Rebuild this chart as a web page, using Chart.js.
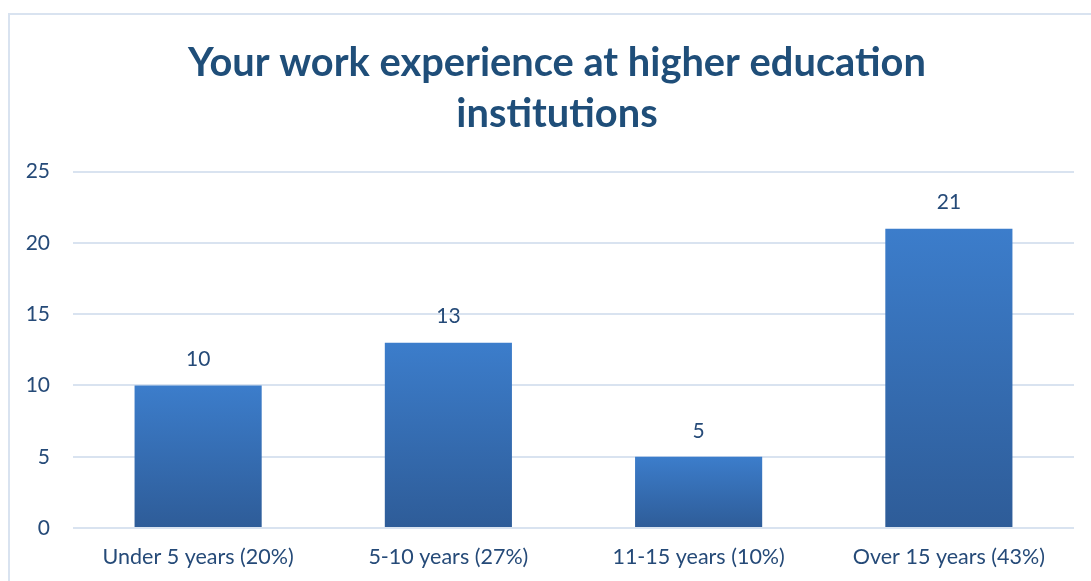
<!DOCTYPE html>
<html>
<head>
<meta charset="utf-8">
<script src="https://cdn.jsdelivr.net/npm/chart.js@4"></script>
<style>
  body { margin: 0; background: #fff; }
  #wrap { width: 1091px; height: 581px; }
</style>
</head>
<body>
<div id="wrap"><canvas id="chart" width="1091" height="581"></canvas></div>
<script>
const titleLines = ['Your work experience at higher education', 'institutions'];
const categories = ['Under 5 years (20%)', '5-10 years (27%)', '11-15 years (10%)', 'Over 15 years (43%)'];
const counts = [10, 13, 5, 21];
const yTicks = [0, 5, 10, 15, 20, 25];

const textBlue = '#1F4E79';
const labelBlue = '#254A78';
const gridColor = '#D9E3F0';

// per-bar gradient, light at the top, darker at the base
function barFill(ctx) {
    const chart = ctx.chart;
    const y = chart.scales.y;
    if (!chart.chartArea || !y) return '#3A78C6';
    const top = y.getPixelForValue(ctx.raw);
    const base = y.getPixelForValue(0);
    const g = chart.ctx.createLinearGradient(0, top, 0, base);
    g.addColorStop(0, '#3C7DCB');
    g.addColorStop(1, '#2E5C98');
    return g;
}

// frame around the whole chart
const framePlugin = {
    id: 'frame',
    beforeDraw(chart) {
        const c = chart.ctx;
        c.save();
        c.strokeStyle = gridColor;
        c.lineWidth = 2;
        c.strokeRect(9, 14, 1200, 1200);
        c.restore();
    }
};

// the title sits centred over the whole frame, not just the plot
const titleShift = {
    id: 'titleShift',
    afterLayout(chart) {
        if (chart.titleBlock) chart.titleBlock.left = 40;
    }
};

// value labels above the bars
const valueLabels = {
    id: 'valueLabels',
    afterDatasetsDraw(chart) {
        const c = chart.ctx;
        const meta = chart.getDatasetMeta(0);
        c.save();
        c.fillStyle = labelBlue;
        c.font = '21px Lato';
        c.textAlign = 'center';
        c.textBaseline = 'middle';
        meta.data.forEach((bar, i) => {
            c.fillText(chart.data.datasets[0].data[i], bar.x, bar.y - 26);
        });
        c.restore();
    }
};

new Chart(document.getElementById('chart'), {
    type: 'bar',
    data: {
        labels: categories,
        datasets: [{
            data: counts,
            backgroundColor: barFill,
            borderWidth: 0,
            barPercentage: 0.508,
            categoryPercentage: 1
        }]
    },
    options: {
        responsive: false,
        animation: false,
        layout: { padding: { left: 0, right: 17, top: 0, bottom: 0 } },
        plugins: {
            legend: { display: false },
            tooltip: { enabled: false },
            title: {
                display: true,
                text: titleLines,
                color: textBlue,
                font: { family: 'Lato', size: 39.8, weight: 'bold', lineHeight: 1.29 },
                padding: { top: 37, bottom: 32 }
            }
        },
        scales: {
            x: {
                grid: { display: false, drawTicks: false },
                border: { display: false },
                ticks: { color: labelBlue, font: { family: 'Lato', size: 21.5 }, padding: 16 },
                afterFit(scale) { scale.height = 53; }
            },
            y: {
                min: 0,
                max: 25,
                afterBuildTicks(scale) { scale.ticks = yTicks.map(v => ({ value: v })); },
                grid: { color: gridColor, lineWidth: 2, drawTicks: false },
                border: { display: false },
                ticks: { color: labelBlue, font: { family: 'Lato', size: 21 }, padding: 23 },
                afterFit(scale) { scale.width = 73; }
            }
        }
    },
    plugins: [framePlugin, titleShift, valueLabels]
});
</script>
</body>
</html>
